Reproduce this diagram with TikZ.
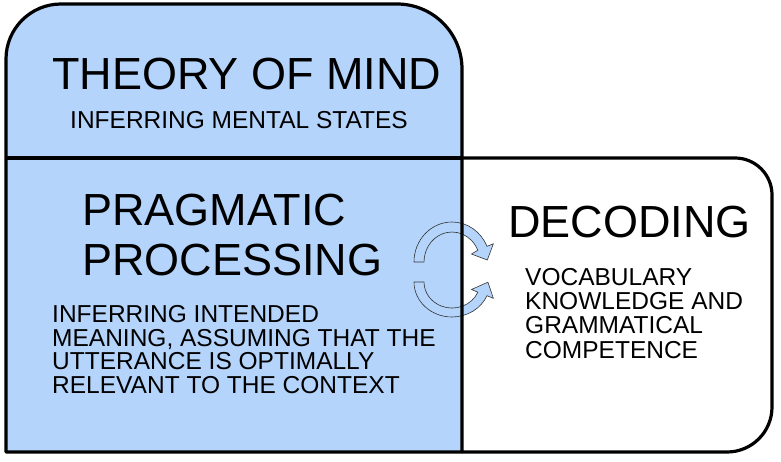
\documentclass[tikz,border=0pt]{standalone}
\usepackage{fontspec}
\setmainfont{Liberation Sans}
\usepackage{tikz}
\usetikzlibrary{positioning}
\definecolor{paleblue}{RGB}{180,212,252}

\begin{document}
\begin{tikzpicture}[x=1pt, y=1pt,
    frame/.style={line width=3.2pt, line join=round},
    big/.style={anchor=base west, inner sep=0pt, align=left, font=\fontsize{45}{50}\selectfont},
    small/.style={anchor=base west, inner sep=0pt, align=left, font=\fontsize{24.5}{#1}\selectfont},
    small/.default=23.4,
    cyc/.style={fill=paleblue, draw=black!80, line width=0.6pt, line join=round}]
  \useasboundingbox (0,0) rectangle (781,461);
  \fill[white] (0,0) rectangle (781,461);
  \fill[paleblue] (6,9) -- (6,402) arc[start angle=180, end angle=90, radius=55]
    -- (397,457) arc[start angle=90, end angle=0, radius=65] -- (462,9) -- cycle;
  \begin{scope}[yshift=461pt, yscale=-1]
    \draw[cyc] (414,262) arc[start angle=180, end angle=337, x radius=38, y radius=40]
      -- (493.4,243.7) -- (487.3,260) -- (471.4,254)
      -- (477.8,250.3) arc[start angle=337, end angle=180, x radius=28, y radius=30] -- cycle;
    \draw[cyc] (414,282) arc[start angle=180, end angle=23, x radius=38, y radius=35]
      -- (493.4,298.4) -- (487.9,282.2) -- (471.4,289.5)
      -- (477.8,292.2) arc[start angle=23, end angle=180, x radius=28, y radius=26] -- cycle;
  \end{scope}
  \draw[frame] (6,9) -- (6,402) arc[start angle=180, end angle=90, radius=55]
    -- (397,457) arc[start angle=90, end angle=0, radius=65] -- (462,9) -- cycle;
  \draw[frame] (462,303) -- (735,303) arc[start angle=90, end angle=0, radius=37]
    -- (772,54) arc[start angle=0, end angle=-90, radius=45] -- (462,9);
  \draw[frame] (6,303) -- (462,303);
  \node[big] (mind) at (52,371) {THEORY OF MIND};
  \node[small] (mindsub) at (70,332) {INFERRING MENTAL STATES};
  \node[big] (prag) at (82,186) {PRAGMATIC\\PROCESSING};
  \node[small] (pragsub) at (52,68) {INFERRING INTENDED\\MEANING, ASSUMING THAT THE\\UTTERANCE IS OPTIMALLY\\RELEVANT TO THE CONTEXT};
  \node[big] (dec) at (508,224) {DECODING};
  \node[small=24.3] (decsub) at (525,103) {VOCABULARY\\KNOWLEDGE AND\\GRAMMATICAL\\COMPETENCE};
\end{tikzpicture}
\end{document}
